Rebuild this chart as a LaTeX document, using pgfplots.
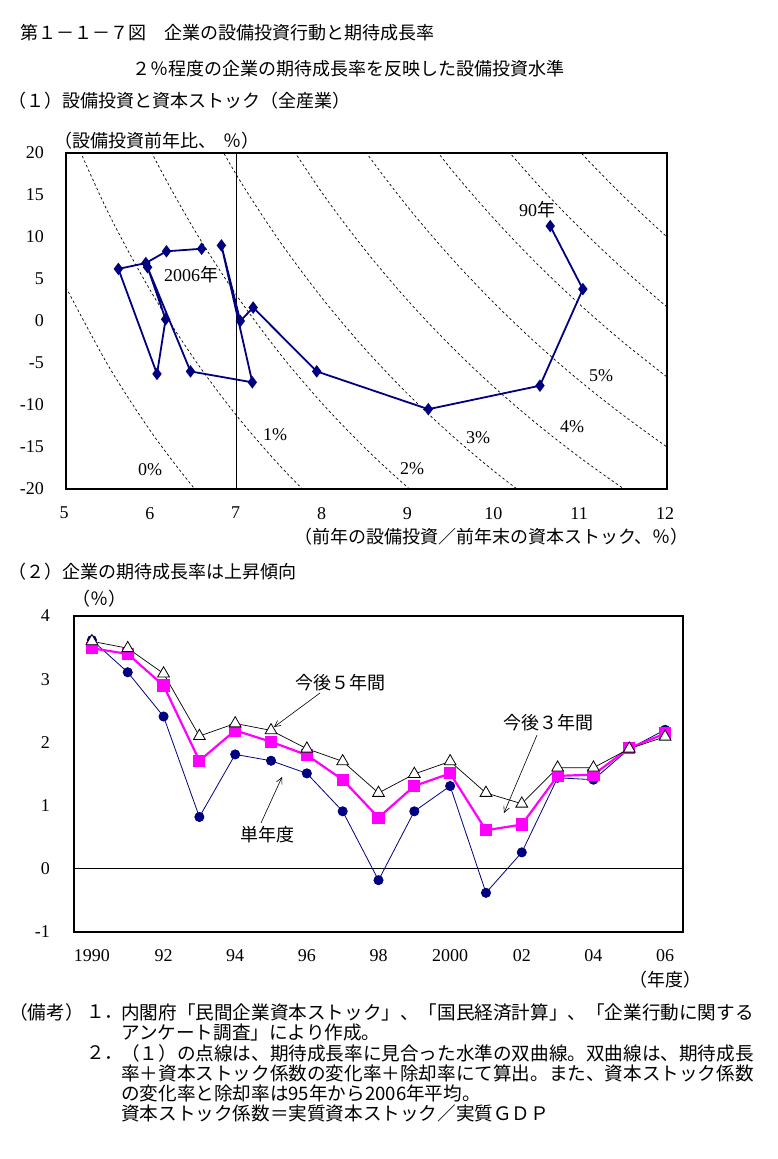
\documentclass[border=0pt]{standalone}
\usepackage{pgfplots}
\pgfplotsset{compat=1.18}
\usepackage{fontspec}
\setmainfont{Liberation Serif}
\newfontfamily\cjk{Noto Sans CJK JP}
\usetikzlibrary{arrows.meta}
\definecolor{navy}{RGB}{0,0,128}
\definecolor{mag}{RGB}{255,0,255}

\newcommand\jp[1]{{\cjk\fontsize{18}{18}\selectfont #1}}
\newcommand\jpn[1]{{\cjk\fontsize{18.6}{18.6}\selectfont #1}}
\newcommand\num[1]{{\fontsize{18}{18}\selectfont #1}}

\begin{document}
\begin{tikzpicture}
\useasboundingbox[fill=white] (0,0) rectangle (777pt,-1159pt);

% titles
\node[anchor=west,inner sep=0] at (20pt,-33pt) {\jp{第１－１－７図　企業の設備投資行動と期待成長率}};
\node[anchor=west,inner sep=0] at (132pt,-69pt) {\jp{２％程度の企業の期待成長率を反映した設備投資水準}};
\node[anchor=west,inner sep=0] at (8pt,-101pt) {\jp{（１）設備投資と資本ストック（全産業）}};
\node[anchor=west,inner sep=0] at (8pt,-572pt) {\jp{（２）企業の期待成長率は上昇傾向}};

% (1) investment vs capital stock
\begin{axis}[
  at={(66pt,-489pt)}, anchor=south west,
  scale only axis, width=601pt, height=336pt,
  xmin=5, xmax=12, ymin=-20, ymax=20,
  xtick={5,...,12}, ytick={-20,-15,...,20},
  major tick length=0pt,
  axis line style={line width=2.5pt},
  tick label style={font=\fontsize{18}{18}\selectfont, inner sep=0pt},
  yticklabel style={anchor=east, xshift=-22pt},
  xticklabel style={anchor=north, xshift=-2pt, yshift=-18pt},
  /pgf/number format/assume math mode=true,
]
  % hyperbolas of the required investment level
  \addplot[black, line width=0.7pt, dash pattern=on 2.5pt off 2.5pt, smooth] coordinates {
    (5,4.0) (5.5,-5.45) (6,-13.33) (6.5,-20.0) (7,-25.71)};
  \addplot[black, line width=0.7pt, dash pattern=on 2.5pt off 2.5pt, smooth] coordinates {
    (5,24) (5.5,12.73) (6,3.33) (6.5,-4.62) (7,-11.43) (7.5,-17.33) (8,-22.5)};
  \addplot[black, line width=0.7pt, dash pattern=on 2.5pt off 2.5pt, smooth] coordinates {
    (5.5,30.91) (6,20) (6.5,10.77) (7,2.86) (7.5,-4) (8,-10) (8.5,-15.29) (9,-20) (9.5,-24.21)};
  \addplot[black, line width=0.7pt, dash pattern=on 2.5pt off 2.5pt, smooth] coordinates {
    (6.5,26.15) (7,17.14) (7.5,9.33) (8,2.5) (8.5,-3.53) (9,-8.89) (9.5,-13.68) (10,-18) (10.5,-21.90)};
  \addplot[black, line width=0.7pt, dash pattern=on 2.5pt off 2.5pt, smooth] coordinates {
    (7.5,22.67) (8,15) (8.5,8.24) (9,2.22) (9.5,-3.16) (10,-8) (10.5,-12.38) (11,-16.36) (11.5,-20) (12,-23.33)};
  \addplot[black, line width=0.7pt, dash pattern=on 2.5pt off 2.5pt, smooth] coordinates {
    (8,27.5) (8.5,20) (9,13.33) (9.5,7.37) (10,2) (10.5,-2.86) (11,-7.27) (11.5,-11.30) (12,-15)};
  \addplot[black, line width=0.7pt, dash pattern=on 2.5pt off 2.5pt, smooth] coordinates {
    (9,24.44) (9.5,17.89) (10,12) (10.5,6.67) (11,1.82) (11.5,-2.61) (12,-6.67)};
  \addplot[black, line width=0.7pt, dash pattern=on 2.5pt off 2.5pt, smooth] coordinates {
    (10,22) (10.5,16.19) (11,10.91) (11.5,6.09) (12,1.67)};
  \addplot[black, line width=0.7pt, dash pattern=on 2.5pt off 2.5pt, smooth] coordinates {
    (10.5,25.71) (11,20) (11.5,14.78) (12,10)};
  % vertical reference line
  \addplot[black, line width=0.8pt] coordinates {(6.98,-20) (6.98,20)};
  % FY1990 ... FY2006
  \addplot[navy, line width=1.8pt, mark=diamond*, mark size=4.8pt] coordinates {
    (10.64,11.3) (11.02,3.8) (10.52,-7.7) (9.22,-10.5) (7.92,-6.0)
    (7.18,1.6) (7.03,0.0) (6.81,9.0) (7.17,-7.3) (6.45,-6.0)
    (5.95,6.4) (6.16,0.2) (6.06,-6.3) (5.61,6.2) (5.93,6.9)
    (6.17,8.3) (6.58,8.6)};
\end{axis}

\node[anchor=west,inner sep=0] at (54pt,-141pt) {\jp{（設備投資前年比、\hspace{0.4em}％）}};
\node[anchor=west,inner sep=0] at (294pt,-537pt) {\jp{（前年の設備投資／前年末の資本ストック、％）}};
\node[anchor=west,inner sep=0] at (519pt,-210pt) {\num{90}\jp{年}};
\node[anchor=west,inner sep=0] at (164pt,-275pt) {\num{2006}\jp{年}};
\node[anchor=west,inner sep=0] at (138pt,-470pt) {\num{0\%}};
\node[anchor=west,inner sep=0] at (263pt,-435pt) {\num{1\%}};
\node[anchor=west,inner sep=0] at (400pt,-469pt) {\num{2\%}};
\node[anchor=west,inner sep=0] at (466pt,-438pt) {\num{3\%}};
\node[anchor=west,inner sep=0] at (560pt,-427pt) {\num{4\%}};
\node[anchor=west,inner sep=0] at (589pt,-376pt) {\num{5\%}};

% (2) expected growth rate
\begin{axis}[
  at={(74pt,-932pt)}, anchor=south west,
  scale only axis, width=609pt, height=316pt,
  xmin=1989.5, xmax=2006.5, ymin=-1, ymax=4,
  xtick={1990,1992,...,2006},
  xticklabels={1990,92,94,96,98,2000,02,04,06},
  ytick={-1,0,...,4},
  major tick length=0pt,
  axis line style={line width=2.5pt},
  tick label style={font=\fontsize{18}{18}\selectfont, inner sep=0pt},
  yticklabel style={anchor=east, xshift=-24pt},
  xticklabel style={anchor=north, yshift=-17pt},
  /pgf/number format/assume math mode=true,
]
  \addplot[black, line width=0.8pt] coordinates {(1989.5,0) (2006.5,0)};
  % single year
  \addplot[navy, line width=0.8pt, mark=*, mark size=4.6pt] coordinates {
    (1990,3.62) (1991,3.11) (1992,2.41) (1993,0.82) (1994,1.81) (1995,1.71)
    (1996,1.51) (1997,0.91) (1998,-0.18) (1999,0.91) (2000,1.31) (2001,-0.38)
    (2002,0.26) (2003,1.44) (2004,1.41) (2005,1.90) (2006,2.20)};
  % next 3 years
  \addplot[mag, line width=2.2pt, mark=square*, mark size=5pt] coordinates {
    (1990,3.49) (1991,3.40) (1992,2.90) (1993,1.71) (1994,2.19) (1995,2.01)
    (1996,1.80) (1997,1.41) (1998,0.81) (1999,1.31) (2000,1.51) (2001,0.61)
    (2002,0.70) (2003,1.47) (2004,1.49) (2005,1.91) (2006,2.14)};
  % next 5 years
  \addplot[black, line width=0.7pt, mark=triangle*, mark size=6.8pt,
    mark options={fill=white, draw=black, line width=0.8pt}] coordinates {
    (1990,3.60) (1991,3.49) (1992,3.09) (1993,2.10) (1994,2.30) (1995,2.19)
    (1996,1.90) (1997,1.70) (1998,1.20) (1999,1.50) (2000,1.70) (2001,1.20)
    (2002,1.03) (2003,1.60) (2004,1.60) (2005,1.90) (2006,2.09)};
\end{axis}

\node[anchor=west,inner sep=0] at (72pt,-599pt) {\jp{（％）}};
\node[anchor=west,inner sep=0] at (629pt,-980pt) {\jp{（年度）}};
\node[anchor=west,inner sep=0] at (295pt,-683pt) {\jp{今後５年間}};
\node[anchor=west,inner sep=0] at (503pt,-723pt) {\jp{今後３年間}};
\node[anchor=west,inner sep=0] at (240pt,-835pt) {\jp{単年度}};
\draw[-{Straight Barb[length=6pt,width=6pt]}, line width=0.6pt] (320pt,-693pt) -- (274pt,-727pt);
\draw[-{Straight Barb[length=6pt,width=6pt]}, line width=0.6pt] (537pt,-735pt) -- (504pt,-813pt);
\draw[-{Straight Barb[length=6pt,width=6pt]}, line width=0.6pt] (261pt,-823pt) -- (282pt,-777pt);

% notes
\node[anchor=west,inner sep=0] at (9pt,-1012pt) {\jpn{（備考）}};
\node[anchor=west,inner sep=0] at (86pt,-1012pt) {\jpn{１．}};
\node[anchor=west,inner sep=0] at (121pt,-1012pt) {\jpn{内閣府「民間企業資本ストック」、「国民経済計算」、「企業行動に関する}};
\node[anchor=west,inner sep=0] at (121pt,-1032pt) {\jpn{アンケート調査」により作成。}};
\node[anchor=west,inner sep=0] at (86pt,-1053pt) {\jpn{２．}};
\node[anchor=west,inner sep=0] at (121pt,-1053pt) {\jpn{（１）の点線は、期待成長率に見合った水準の双曲線。双曲線は、期待成長}};
\node[anchor=west,inner sep=0] at (121pt,-1073pt) {\jpn{率＋資本ストック係数の変化率＋除却率にて算出。また、資本ストック係数}};
\node[anchor=west,inner sep=0] at (121pt,-1093pt) {\jpn{の変化率と除却率は95年から2006年平均。}};
\node[anchor=west,inner sep=0] at (121pt,-1113pt) {\jpn{資本ストック係数＝実質資本ストック／実質ＧＤＰ}};
\end{tikzpicture}
\end{document}
